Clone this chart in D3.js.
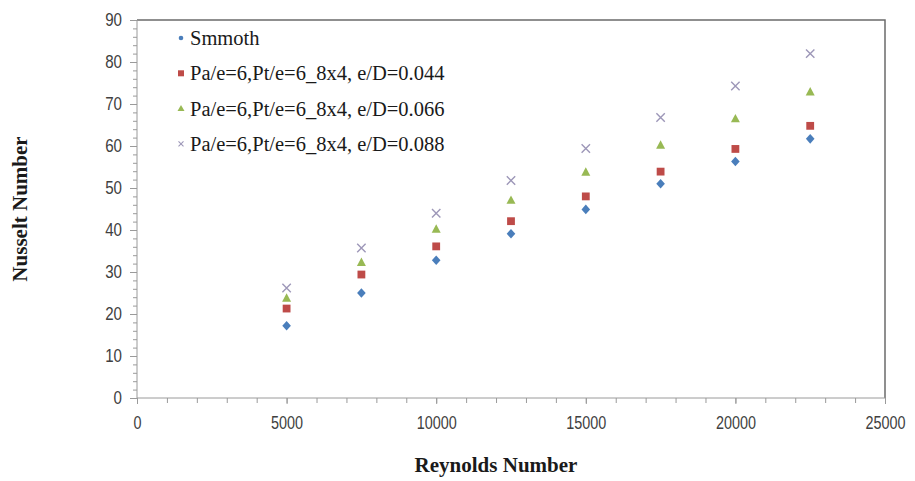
<!DOCTYPE html>
<html>
<head>
<meta charset="utf-8">
<script src="https://cdn.jsdelivr.net/npm/d3@7/dist/d3.min.js"></script>
<style>
  html, body { margin: 0; padding: 0; background: #fff; }
  svg { display: block; }
</style>
</head>
<body>
<svg id="chart" width="915" height="481"></svg>
<script>
// ---- data ----
const reynolds = [5000, 7500, 10000, 12500, 15000, 17500, 20000, 22500];
const smooth   = [17.2, 25.0, 32.8, 39.1, 44.9, 51.0, 56.3, 61.7];
const ed044    = [21.3, 29.4, 36.1, 42.1, 48.0, 53.9, 59.3, 64.8];
const ed066    = [23.8, 32.3, 40.2, 47.1, 53.8, 60.2, 66.5, 72.9];
const ed088    = [26.2, 35.7, 44.0, 51.8, 59.4, 66.8, 74.3, 82.0];
const seriesNames = [
  "Smmoth",
  "Pa/e=6,Pt/e=6_8x4, e/D=0.044",
  "Pa/e=6,Pt/e=6_8x4, e/D=0.066",
  "Pa/e=6,Pt/e=6_8x4, e/D=0.088"
];
const xTicks = [0, 5000, 10000, 15000, 20000, 25000];
const yTicks = [0, 10, 20, 30, 40, 50, 60, 70, 80, 90];

const seriesValues = [smooth, ed044, ed066, ed088];
const colors = ["#4a7ebb", "#be4b48", "#98b954", "#9d97b8"];
const shapes = ["diamond", "square", "triangle", "cross"];

// ---- layout ----
const svg = d3.select("#chart");
const L = 137, R = 885, T = 20, B = 398;
const x = d3.scaleLinear().domain([0, 25000]).range([L, R]);
const y = d3.scaleLinear().domain([0, 90]).range([B, T]);
const tickFont = "'Liberation Sans', 'DejaVu Sans', sans-serif";
const serif = "'Liberation Serif', 'Times New Roman', serif";

// frame (top/right)
svg.append("path")
  .attr("d", `M${L},${T} H${R} V${B}`)
  .attr("fill", "none").attr("stroke", "#6b6b6b").attr("stroke-width", 1.5);

// x minor ticks
const xMinor = d3.range(0, 25001, 1000);
const gx = svg.append("g").attr("transform", `translate(0,${B})`);
gx.call(d3.axisBottom(x).tickValues(xMinor).tickSize(5).tickFormat(""))
  .call(g => g.select(".domain").remove());
gx.selectAll(".tick line").attr("stroke", "#9a9a9a");
const gx2 = svg.append("g").attr("transform", `translate(0,${B})`);
gx2.call(d3.axisBottom(x).tickValues(xTicks).tickSize(6).tickPadding(12).tickFormat(d3.format("d")));
gx2.attr("font-size", null);
gx2.select(".domain").attr("stroke", "#9a9a9a").attr("d", `M${L},0H${R}`);
gx2.selectAll(".tick line").attr("stroke", "#9a9a9a");
gx2.selectAll("text")
  .style("font-family", tickFont)
  .style("font-size", "18px").attr("fill", "#404040")
  .attr("transform", "scale(0.8,1)");

// y minor ticks
const yMinor = d3.range(0, 91, 2);
const gy = svg.append("g").attr("transform", `translate(${L},0)`);
gy.call(d3.axisLeft(y).tickValues(yMinor).tickSize(4).tickFormat(""))
  .call(g => g.select(".domain").remove());
gy.selectAll(".tick line").attr("stroke", "#9a9a9a");
const gy2 = svg.append("g").attr("transform", `translate(${L},0)`);
gy2.call(d3.axisLeft(y).tickValues(yTicks).tickSize(7).tickPadding(8));
gy2.attr("font-size", null);
gy2.select(".domain").attr("stroke", "#9a9a9a").attr("d", `M0,${B}V${T}`);
gy2.selectAll(".tick line").attr("stroke", "#9a9a9a");
gy2.selectAll("text")
  .style("font-family", tickFont)
  .style("font-size", "18px").attr("fill", "#404040")
  .attr("transform", "translate(-15,0) scale(0.84,1) translate(15,0)");

// marker shape generator
function drawMarker(g, shape, color, cx, cy) {
  if (shape === "diamond") {
    g.append("path").attr("d", `M${cx},${cy-4.8}L${cx+4.3},${cy}L${cx},${cy+4.8}L${cx-4.3},${cy}Z`)
      .attr("fill", color);
  } else if (shape === "square") {
    g.append("rect").attr("x", cx - 3.9).attr("y", cy - 3.9).attr("width", 7.8).attr("height", 7.8)
      .attr("fill", color);
  } else if (shape === "triangle") {
    g.append("path").attr("d", `M${cx},${cy-4.8}L${cx+4.5},${cy+3.6}L${cx-4.5},${cy+3.6}Z`)
      .attr("fill", color);
  } else {
    g.append("path").attr("d", `M${cx-4.2},${cy-4.2}L${cx+4.2},${cy+4.2}M${cx+4.2},${cy-4.2}L${cx-4.2},${cy+4.2}`)
      .attr("stroke", color).attr("stroke-width", 1.4).attr("fill", "none");
  }
}

// points
seriesValues.forEach((vals, si) => {
  const g = svg.append("g");
  vals.forEach((v, i) => drawMarker(g, shapes[si], colors[si], x(reynolds[i]), y(v)));
});

// legend
const legend = svg.append("g");
seriesNames.forEach((name, i) => {
  const ly = 38 + i * 35.3;
  const lg = legend.append("g");
  if (i === 0) {
    lg.append("circle").attr("cx", 181).attr("cy", ly).attr("r", 2.3).attr("fill", colors[0]);
  } else if (i === 1) {
    lg.append("rect").attr("x", 178).attr("y", ly - 3).attr("width", 6).attr("height", 6).attr("fill", colors[1]);
  } else if (i === 2) {
    lg.append("path").attr("d", `M181,${ly-3.5}L184.5,${ly+2.5}L177.5,${ly+2.5}Z`).attr("fill", colors[2]);
  } else {
    lg.append("path").attr("d", `M178.5,${ly-2.5}L183.5,${ly+2.5}M183.5,${ly-2.5}L178.5,${ly+2.5}`)
      .attr("stroke", colors[3]).attr("stroke-width", 1.1);
  }
  lg.append("text").attr("x", 190).attr("y", ly).attr("dy", "0.35em")
    .attr("font-family", serif)
    .attr("font-size", 20.5).attr("fill", "#1a1a1a").text(name);
});

// axis titles
svg.append("text").attr("x", 496).attr("y", 472).attr("text-anchor", "middle")
  .attr("font-family", serif)
  .attr("font-weight", "bold").attr("font-size", 21).attr("fill", "#1a1a1a")
  .text("Reynolds Number");
svg.append("text").attr("transform", "translate(27,209) rotate(-90)").attr("text-anchor", "middle")
  .attr("font-family", serif)
  .attr("font-weight", "bold").attr("font-size", 21).attr("fill", "#1a1a1a")
  .text("Nusselt Number");
</script>
</body>
</html>
